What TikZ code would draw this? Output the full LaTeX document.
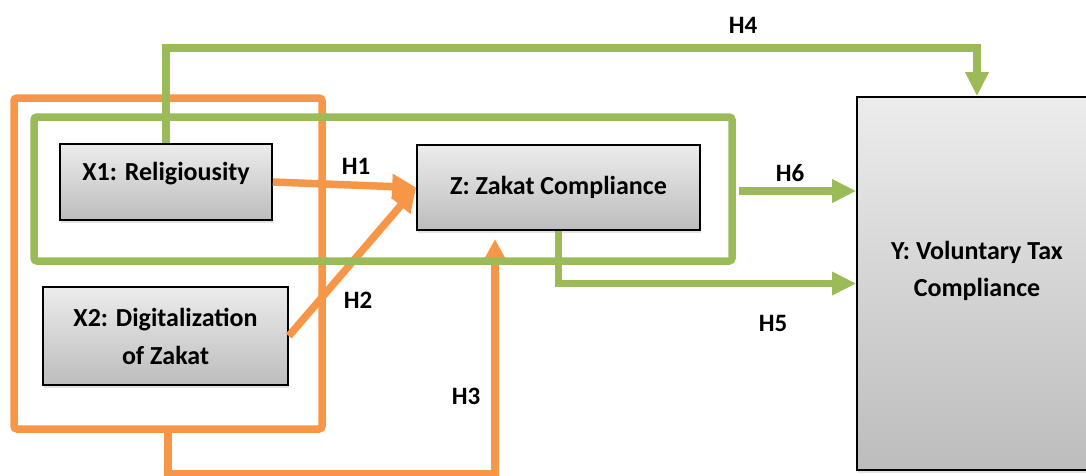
\documentclass[tikz,border=0pt]{standalone}
\usepackage{fontspec}
\setmainfont{Carlito}
\usetikzlibrary{arrows.meta,shadows}
\definecolor{hypo}{HTML}{F79646}
\definecolor{medi}{HTML}{9BBB59}
\tikzset{
  var/.style={draw=black, line width=1.6pt, top color=gray!15, bottom color=gray!52,
    drop shadow={opacity=0.22, shadow xshift=0.5pt, shadow yshift=-3pt},
    font=\bfseries\fontsize{26}{38}\selectfont, align=center, inner sep=0pt},
  frame/.style={line width=7.5pt, rounded corners=3pt, inner sep=0pt},
  orangeline/.style={hypo, line width=7.5pt},
  greenline/.style={medi, line width=7.5pt},
  orangearrow/.style={orangeline, -{Triangle[length=24pt,width=24pt]}},
  greenarrow/.style={greenline, -{Triangle[length=24pt,width=22pt]}},
  hlabel/.style={font=\bfseries\fontsize{25}{30}\selectfont, inner sep=0pt}
}
\begin{document}
\begin{tikzpicture}[x=1pt,y=-1pt]
\useasboundingbox (0,0) rectangle (1086,475);

% orange frame round the two independent variables
\node[frame, draw=hypo, minimum width=308pt, minimum height=331pt] (obox) at (168,263.5) {};

% variables
\node[var, minimum width=212pt, minimum height=76pt, text height=18pt, text depth=21pt] (X1) at (166,182) {X1: Religiousity};
\node[var, minimum width=245pt, minimum height=98pt] (X2) at (165.5,336) {X2: Digitalization\\of Zakat};
\node[var, minimum width=283pt, minimum height=85pt] (Z) at (558.5,187.5) {Z: Zakat Compliance};
\node[var, minimum width=240pt, minimum height=373pt] (Y) at (977,283.5) {};
\node[font=\bfseries\fontsize{26}{37}\selectfont, align=center] (ylab) at (977,271) {Y: Voluntary Tax\\Compliance};

% direct effects on zakat compliance
\draw[orangearrow] (X1.east) -- (Z.west);
\draw[orangearrow] (X2.east) -- (Z.west);
\coordinate (h3tip) at (495,239);
\draw[orangearrow] (obox.south) -- ++(0,41) -| (h3tip);

% green frame and effects on tax compliance
\node[frame, draw=medi, minimum width=698pt, minimum height=144pt] (gbox) at (383,189) {};
\draw[greenarrow] (X1.north) -- ++(0,-95) -| (Y.north);
\draw[greenarrow] (gbox.east) ++(3.5,2) -- (Y.west |- 0,191);
\draw[greenarrow] (Z.south) |- (Y.west);

% hypothesis labels
\node[hlabel] (h1) at (356,166) {H1};
\node[hlabel] (h2) at (358,300) {H2};
\node[hlabel] (h3) at (466,396) {H3};
\node[hlabel] (h4) at (743,25) {H4};
\node[hlabel] (h5) at (773,323) {H5};
\node[hlabel] (h6) at (790,173) {H6};
\end{tikzpicture}
\end{document}
